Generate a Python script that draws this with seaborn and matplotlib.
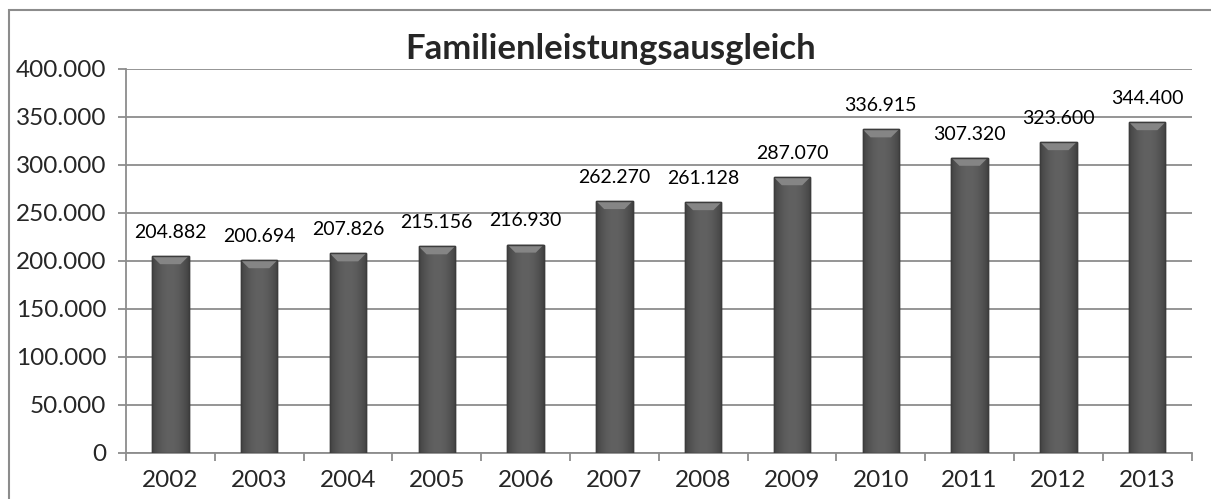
import numpy as np
import pandas as pd
import seaborn as sns
import matplotlib.pyplot as plt
from matplotlib.patches import Polygon, Rectangle

years = ['2002', '2003', '2004', '2005', '2006', '2007',
         '2008', '2009', '2010', '2011', '2012', '2013']
values = [204882, 200694, 207826, 215156, 216930, 262270,
          261128, 287070, 336915, 307320, 323600, 344400]
title = 'Familienleistungsausgleich'

df = pd.DataFrame({'year': years, 'value': values})


def de_fmt(v):
    return f'{int(v):,}'.replace(',', '.')


sns.set_style('white')
plt.rcParams['font.family'] = ['Lato', 'DejaVu Sans']

fig = plt.figure(figsize=(12.11, 4.99), dpi=100)
ax = fig.add_axes([0.104, 0.0922, 0.880, 0.770])

sns.barplot(x='year', y='value', data=df, color='#555555', width=0.41,
            edgecolor='#3c3c3c', linewidth=1, saturation=1, ax=ax, zorder=3)

ax.set_ylim(0, 400000)
ax.set_xlim(-0.5, len(years) - 0.5)
ax.set_yticks(np.arange(0, 400001, 50000))
ax.set_yticklabels([de_fmt(t) for t in ax.get_yticks()])

ax.grid(axis='y', color='#8c8c8c', linewidth=1.3, zorder=0)
ax.set_axisbelow(True)
for s in ['top', 'right']:
    ax.spines[s].set_visible(False)
for s in ['left', 'bottom']:
    ax.spines[s].set_color('#8c8c8c')
    ax.spines[s].set_linewidth(1.3)

ax.tick_params(axis='y', length=6, width=1.3, color='#8c8c8c', labelsize=17.5, pad=8, left=True)
ax.tick_params(axis='x', which='major', length=0, labelsize=17.5, pad=12)
ax.set_xticks(np.arange(-0.5, len(years)), minor=True)
ax.tick_params(axis='x', which='minor', length=6, width=1.3, color='#8c8c8c', bottom=True)
ax.set_xlabel('')
ax.set_ylabel('')

# horizontal shading (dark edges, lighter middle) and top bevel on each bar
edge = np.abs(np.linspace(-1, 1, 64)) ** 2
shade = 0.26 + 0.12 * (1 - edge)
img = np.dstack([np.tile(shade, (2, 1))] * 3)
px = 400000 / (ax.get_position().height * fig.get_figheight() * fig.dpi)
for p in ax.patches:
    x0, w, h = p.get_x(), p.get_width(), p.get_height()
    im = ax.imshow(img, extent=[x0, x0 + w, 0, h], aspect='auto', zorder=4,
                   interpolation='bilinear')
    im.set_clip_path(p)
    bev = 8 * px
    ax.add_patch(Polygon([[x0, h], [x0 + w, h], [x0 + w * 0.78, h - bev], [x0 + w * 0.22, h - bev]],
                         closed=True, facecolor='#858585', edgecolor='none', zorder=5))
    ax.add_patch(Rectangle((x0, 0), w, h, fill=False, edgecolor='#3c3c3c', linewidth=1, zorder=6))

ax.set_ylim(0, 400000)
ax.set_xlim(-0.5, len(years) - 0.5)

ax.bar_label(ax.containers[0], labels=[de_fmt(v) for v in values], padding=11,
             fontsize=14, color='#000000')

fig.text(0.504, 0.902, title, ha='center', va='center', fontsize=25, fontweight='bold')

fig.add_artist(Rectangle((9 / 1211, -0.1), 1.2, 0.1 + 1 - 10 / 499, transform=fig.transFigure,
                         fill=False, edgecolor='#8c8c8c', linewidth=1.5))

fig.savefig('out.png', dpi=100)
